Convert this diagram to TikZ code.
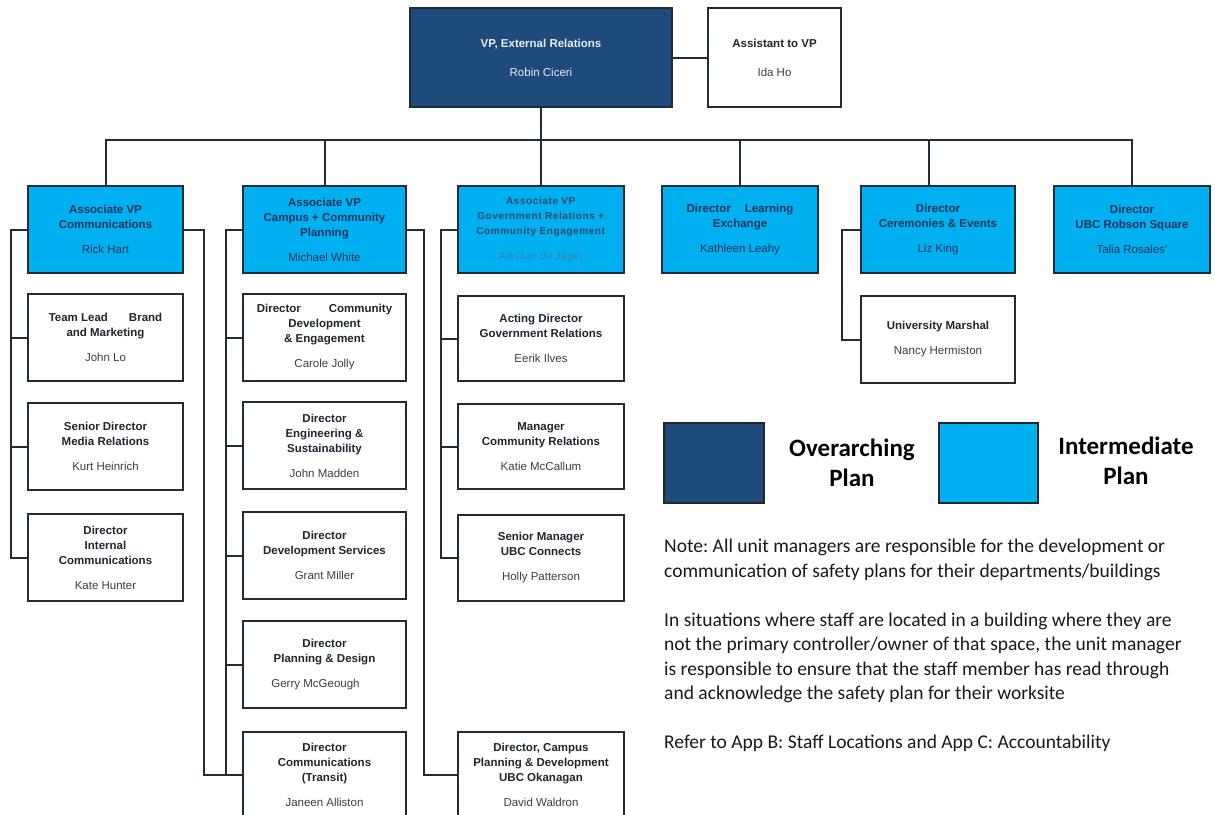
\documentclass[tikz,border=0pt]{standalone}
\usepackage{fontspec}
\setmainfont{Liberation Sans}
\newfontfamily\calib{Carlito}
\newfontfamily\govfont[LetterSpace=6]{Liberation Sans}
\frenchspacing
\definecolor{navy}{HTML}{1F4A7C}
\definecolor{cyanbox}{HTML}{00B0F0}
\definecolor{linec}{HTML}{222C37}
\definecolor{ttxt}{HTML}{1E2731}
\definecolor{ntxt}{HTML}{3A3F45}
\definecolor{ltxt}{HTML}{17355A}
\definecolor{vptxt}{HTML}{E6ECF2}
\definecolor{govtxt}{HTML}{2A4B70}
\definecolor{govname}{HTML}{3E7BAE}
\definecolor{notetxt}{HTML}{1A1A1A}
\newcommand\bxT[1]{\textbf{#1}}
\newcommand\bxN[1]{\textcolor{ntxt}{#1}}
\tikzset{
  box/.style={draw=linec, line width=2pt, inner sep=0pt, align=center,
    font=\fontsize{11.5}{15}\selectfont},
  dbox/.style={box, fill=navy, text=vptxt},
  lbox/.style={box, fill=cyanbox, text=ltxt},
  wbox/.style={box, fill=white, text=ttxt},
  conn/.style={draw=linec, line width=2pt},
  legtext/.style={align=center, text=black, font=\calib\bfseries\fontsize{25}{30}\selectfont},
}
\begin{document}
\begin{tikzpicture}[x=1pt,y=-1pt]
\useasboundingbox (0,0) rectangle (1215,814);
\fill[white] (0,0) rectangle (1215,814);
\clip (0,0) rectangle (1215,814);

% top level
\node[dbox, minimum width=262, minimum height=99] (vp) at (541,57.5)
  {\bxT{VP, External Relations}\\[14pt]Robin Ciceri};
\node[wbox, minimum width=133, minimum height=99] (asst) at (774.5,57.5)
  {\bxT{Assistant to VP}\\[14pt]\bxN{Ida Ho}};

% level 2
\node[lbox, minimum width=155, minimum height=87] (comm) at (105.5,229.5)
  {\bxT{Associate VP}\\\bxT{Communications}\\[10pt]Rick Hart};
\node[lbox, minimum width=163, minimum height=87] (campus) at (324.5,229.5)
  {\bxT{Associate VP}\\\bxT{Campus + Community}\\\bxT{Planning}\\[10pt]Michael White};
\node[lbox, minimum width=166, minimum height=87, text=govtxt,
      font=\govfont\fontsize{10}{15}\selectfont] (gov) at (541,229.5)
  {\bxT{Associate VP}\\\bxT{Government Relations +}\\\bxT{Community Engagement}\\[10pt]\textcolor{govname}{Adriaan de Jager}};
\node[lbox, minimum width=156, minimum height=87] (learn) at (740,229.5)
  {\bxT{Director\hspace{14pt}Learning}\\\bxT{Exchange}\\[10pt]Kathleen Leahy};
\node[lbox, minimum width=154, minimum height=87] (cere) at (938,229.5)
  {\bxT{Director}\\\bxT{Ceremonies \& Events}\\[10pt]Liz King};
\node[lbox, minimum width=156, minimum height=87] (robson) at (1132,229.5)
  {\bxT{Director}\\\bxT{UBC Robson Square}\\[10pt]Talia Rosales’};

% communications column
\node[wbox, minimum width=155, minimum height=87] (johnlo) at (105.5,337.5)
  {\bxT{Team Lead\hspace{21pt}Brand}\\\bxT{and Marketing}\\[10pt]\bxN{John Lo}};
\node[wbox, minimum width=155, minimum height=87] (kurt) at (105.5,446.5)
  {\bxT{Senior Director}\\\bxT{Media Relations}\\[10pt]\bxN{Kurt Heinrich}};
\node[wbox, minimum width=155, minimum height=87] (kate) at (105.5,557.5)
  {\bxT{Director}\\\bxT{Internal}\\\bxT{Communications}\\[10pt]\bxN{Kate Hunter}};

% campus column
\node[wbox, minimum width=163, minimum height=87] (carole) at (324.5,337.5)
  {\bxT{Director\hspace{28pt}Community}\\\bxT{Development}\\\bxT{\& Engagement}\\[10pt]\bxN{Carole Jolly}};
\node[wbox, minimum width=163, minimum height=87] (madden) at (324.5,445.5)
  {\bxT{Director}\\\bxT{Engineering \&}\\\bxT{Sustainability}\\[10pt]\bxN{John Madden}};
\node[wbox, minimum width=163, minimum height=87] (grant) at (324.5,555.5)
  {\bxT{Director}\\\bxT{Development Services}\\[10pt]\bxN{Grant Miller}};
\node[wbox, minimum width=163, minimum height=87] (gerry) at (324.5,664.5)
  {\bxT{Director}\\\bxT{Planning \& Design}\\[10pt]\bxN{Gerry McGeough}\hspace*{18pt}};
\node[wbox, minimum width=163, minimum height=86] (janeen) at (324.5,775)
  {\bxT{Director}\\\bxT{Communications}\\\bxT{(Transit)}\\[10pt]\bxN{Janeen Alliston}};

% government column
\node[wbox, minimum width=166, minimum height=85] (eerik) at (541,338.5)
  {\bxT{Acting Director}\\\bxT{Government Relations}\\[10pt]\bxN{Eerik Ilves}};
\node[wbox, minimum width=166, minimum height=85] (katie) at (541,446.5)
  {\bxT{Manager}\\\bxT{Community Relations}\\[10pt]\bxN{Katie McCallum}};
\node[wbox, minimum width=166, minimum height=86] (holly) at (541,558)
  {\bxT{Senior Manager}\\\bxT{UBC Connects}\\[10pt]\bxN{Holly Patterson}};
\node[wbox, minimum width=166, minimum height=86] (david) at (541,775)
  {\bxT{Director, Campus}\\\bxT{Planning \& Development}\\\bxT{UBC Okanagan}\\[10pt]\bxN{David Waldron}};

% ceremonies
\node[wbox, minimum width=154, minimum height=87] (marshal) at (938,339.5)
  {\bxT{University Marshal}\\[10pt]\bxN{Nancy Hermiston}};

% connectors
\coordinate (bus) at (541,140);
\draw[conn] (vp) -- (asst);
\draw[conn] (vp.south) -- (bus);
\draw[conn] (comm.north) -- (comm.north |- bus) -- (robson.north |- bus) -- (robson.north);
\draw[conn] (campus.north) -- (campus.north |- bus);
\draw[conn] (gov.north) -- (gov.north |- bus);
\draw[conn] (learn.north) -- (learn.north |- bus);
\draw[conn] ([xshift=-9pt]cere.north) -- ([xshift=-9pt]cere.north |- bus);

\coordinate (commL) at (11,229.5);
\coordinate (commR) at (204,229.5);
\coordinate (campL) at (226,229.5);
\coordinate (campR) at (424,229.5);
\coordinate (govL) at (441,229.5);
\coordinate (cereL) at (842,229.5);

\draw[conn] (comm.west) -- (commL) |- (kate.west);
\draw[conn] (commL |- johnlo.west) -- (johnlo.west);
\draw[conn] (commL |- kurt.west) -- (kurt.west);
\draw[conn] (comm.east) -- (commR) |- (janeen.west);

\draw[conn] (campus.west) -- (campL) |- (janeen.west);
\draw[conn] (campL |- carole.west) -- (carole.west);
\draw[conn] (campL |- madden.west) -- (madden.west);
\draw[conn] (campL |- grant.west) -- (grant.west);
\draw[conn] (campL |- gerry.west) -- (gerry.west);
\draw[conn] (campus.east) -- (campR) |- (david.west);

\draw[conn] (gov.west) -- (govL) |- (holly.west);
\draw[conn] (govL |- eerik.west) -- (eerik.west);
\draw[conn] (govL |- katie.west) -- (katie.west);

\draw[conn] (cere.west) -- (cereL) |- (marshal.west);

% legend
\node[draw=black!85, line width=1.4pt, fill=navy, minimum width=100, minimum height=80] (legd) at (714,463) {};
\node[draw=black!85, line width=1.4pt, fill=cyanbox, minimum width=99, minimum height=80] (legl) at (988.5,463) {};
\node[legtext] (legdt) at (852,463) {Overarching\\Plan};
\node[legtext] (leglt) at (1126,461) {Intermediate\\Plan};

% notes
\node[anchor=north west, inner sep=0pt, align=left, text=notetxt,
      font=\calib\fontsize{19.5}{24.5}\selectfont] (notes) at (664,539)
  {Note: All unit managers are responsible for the development or\\
   communication of safety plans for their departments/buildings\\[24.5pt]
   In situations where staff are located in a building where they are\\
   not the primary controller/owner of that space, the unit manager\\
   is responsible to ensure that the staff member has read through\\
   and acknowledge the safety plan for their worksite\\[24.5pt]
   Refer to App B: Staff Locations and App C: Accountability};
\end{tikzpicture}
\end{document}
